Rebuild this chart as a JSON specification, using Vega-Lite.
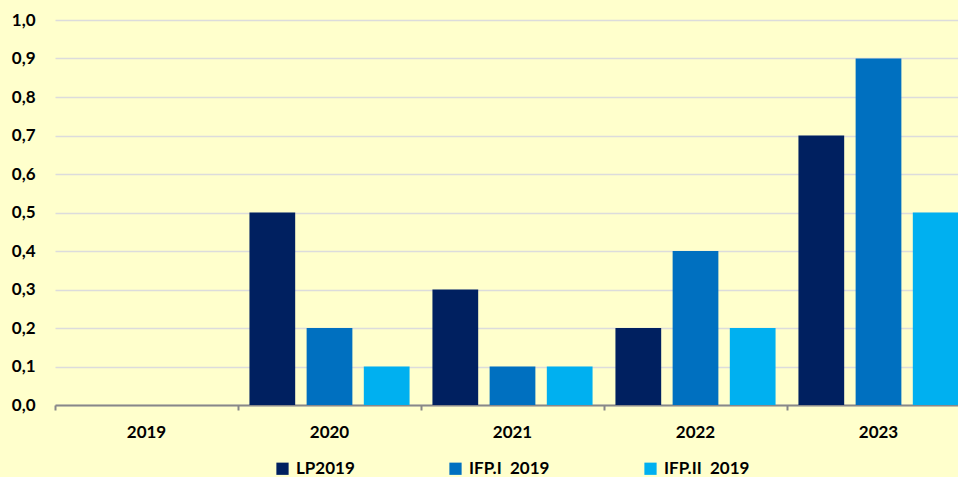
{
  "$schema": "https://vega.github.io/schema/vega-lite/v6.json",
  "width": 915,
  "height": 385,
  "autosize": {"type": "none"},
  "padding": {"left": 55, "top": 20, "right": 0, "bottom": 72},
  "background": "#FFFFCC",
  "config": {
    "view": {"stroke": null},
    "font": "Lato",
    "axis": {"labelFont": "Lato", "labelFontWeight": "bold", "labelFontSize": 17, "labelColor": "#000000"},
    "legend": {"labelFont": "Lato", "labelFontWeight": "bold", "labelFontSize": 17, "labelColor": "#000000"}
  },
  "data": {
    "values": [
      {"year": "2019", "series": "LP2019", "value": 0},
      {"year": "2019", "series": "IFP.I\u00a0 2019", "value": 0},
      {"year": "2019", "series": "IFP.II\u00a0 2019", "value": 0},
      {"year": "2020", "series": "LP2019", "value": 0.5},
      {"year": "2020", "series": "IFP.I\u00a0 2019", "value": 0.2},
      {"year": "2020", "series": "IFP.II\u00a0 2019", "value": 0.1},
      {"year": "2021", "series": "LP2019", "value": 0.3},
      {"year": "2021", "series": "IFP.I\u00a0 2019", "value": 0.1},
      {"year": "2021", "series": "IFP.II\u00a0 2019", "value": 0.1},
      {"year": "2022", "series": "LP2019", "value": 0.2},
      {"year": "2022", "series": "IFP.I\u00a0 2019", "value": 0.4},
      {"year": "2022", "series": "IFP.II\u00a0 2019", "value": 0.2},
      {"year": "2023", "series": "LP2019", "value": 0.7},
      {"year": "2023", "series": "IFP.I\u00a0 2019", "value": 0.9},
      {"year": "2023", "series": "IFP.II\u00a0 2019", "value": 0.5}
    ]
  },
  "mark": {"type": "bar"},
  "encoding": {
    "x": {
      "field": "year", "type": "nominal",
      "scale": {"paddingInner": 0, "paddingOuter": 0},
      "axis": {
        "title": null, "labelAngle": 0, "domainColor": "#888888", "domainWidth": 2,
        "tickColor": "#888888", "tickWidth": 2, "tickSize": 5, "bandPosition": 0,
        "labelPadding": 14, "grid": false
      }
    },
    "xOffset": {
      "field": "series", "type": "nominal",
      "sort": ["LP2019", "IFP.I\u00a0 2019", "IFP.II\u00a0 2019"],
      "scale": {"paddingInner": 0.2, "paddingOuter": 0.2}
    },
    "y": {
      "field": "value", "type": "quantitative",
      "scale": {"domain": [0, 1], "nice": false},
      "axis": {
        "title": null, "values": [0, 0.1, 0.2, 0.3, 0.4, 0.5, 0.6, 0.7, 0.8, 0.9, 1.0],
        "format": ".1f", "labelExpr": "replace(datum.label, '.', ',')", "labelOverlap": false,
        "domain": false, "ticks": false, "labelPadding": 20,
        "gridColor": "#DCDCDC", "gridWidth": 1.5
      }
    },
    "color": {
      "field": "series", "type": "nominal",
      "sort": ["LP2019", "IFP.I\u00a0 2019", "IFP.II\u00a0 2019"],
      "scale": {"domain": ["LP2019", "IFP.I\u00a0 2019", "IFP.II\u00a0 2019"], "range": ["#002060", "#0070C0", "#00B0F0"]},
      "legend": {
        "title": null, "orient": "none", "direction": "horizontal",
        "legendX": 219, "legendY": 440, "symbolType": "square", "symbolSize": 150,
        "symbolStrokeWidth": 0, "columnPadding": 92, "labelOffset": 5
      }
    }
  }
}
